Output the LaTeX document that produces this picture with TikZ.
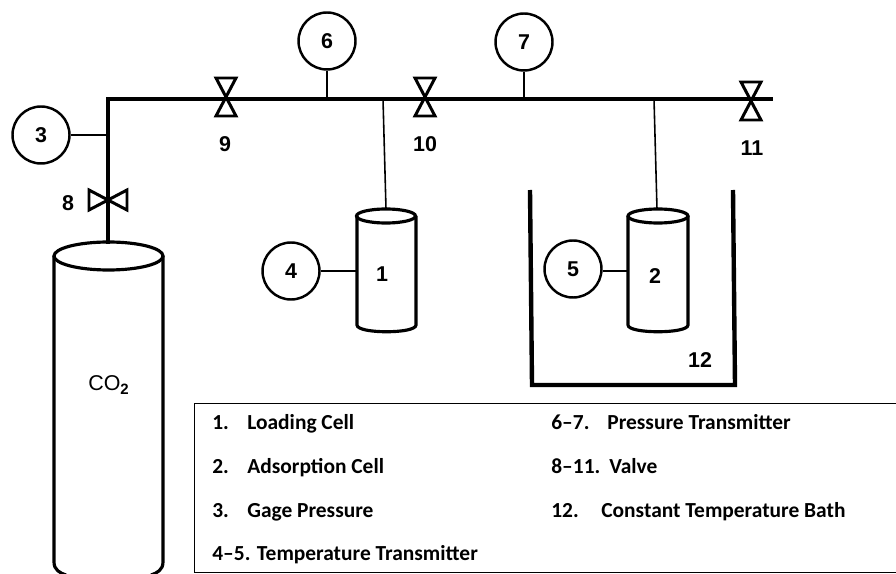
\documentclass[tikz,border=0pt]{standalone}
\usepackage{fontspec}
\setmainfont{Liberation Sans}
\newfontfamily\legendfont{Carlito}
\usepackage{tikz}

\begin{document}
\begin{tikzpicture}[
  x=0.02cm, y=-0.02cm,
  gauge/.style={circle, draw, line width=1.4pt, minimum size=1.14cm, inner sep=0pt, font=\bfseries\fontsize{12.2}{14}\selectfont},
  tag/.style={inner sep=0pt, font=\bfseries\fontsize{12.2}{14}\selectfont},
  legend/.style={anchor=base west, inner sep=0pt, font=\legendfont\bfseries\fontsize{12.2}{14}\selectfont},
  pipe/.style={line width=2.8pt},
  wall/.style={line width=1.8pt},
  tap/.style={line width=0.9pt},
  valveup/.pic={\draw[line width=1.7pt, line join=miter] (-10,-19) -- (10,-19) -- (-10,19) -- (10,19) -- cycle;},
  valveside/.pic={\draw[line width=1.7pt, line join=miter] (-19,-10) -- (-19,10) -- (19,-10) -- (19,10) -- cycle;}
]
\useasboundingbox (0,0) rectangle (896,574);

% Main line
\coordinate (corner) at (108,99);
\coordinate (lineend) at (771,99);
\coordinate (cylinderneck) at (108,242);
\draw[pipe, line cap=rect] (lineend) -- (corner) -- (cylinderneck);

% Gauges and transmitters
\node[gauge] (3) at (41,135) {3};
\node[gauge] (4) at (291,271) {4};
\node[gauge] (5) at (573,269) {5};
\node[gauge] (6) at (327,41) {6};
\node[gauge] (7) at (524,42) {7};

% Cells
\coordinate (cell1top) at (386,209);
\coordinate (cell2top) at (657,209);
\draw[wall] (357,216) -- (357,325) .. controls (357,334) and (416,334) .. (416,325) -- (416,216);
\draw[wall] (386,216) ellipse (29.5 and 7);
\draw[wall] (628,216) -- (628,325) .. controls (628,334) and (688,334) .. (688,325) -- (688,216);
\draw[wall] (658,216) ellipse (30 and 7);
\node[tag] (1) at (382,274) {1};
\node[tag] (2) at (655,276) {2};

% CO2 cylinder
\draw[wall] (54,256) -- (54,562) .. controls (54,570) and (60,573) .. (66,575);
\draw[wall] (163,256) -- (163,562) .. controls (163,570) and (157,573) .. (151,575);
\draw[wall] (108.5,256) ellipse (54.5 and 14);
\node[tag, font=\fontsize{12.2}{14}\selectfont] (co2) at (109,385) {CO\textsubscript{\bfseries 2}};

% Taps
\draw[tap] (3) -- (3 -| corner);
\draw[tap] (4) -- (4 -| 357,0);
\draw[tap] (5.east |- 0,271) -- (628,271);
\draw[tap] (6) -- (6 |- corner);
\draw[tap] (7) -- (7 |- corner);
\draw[tap] (383,99) -- (cell1top);
\draw[tap] (654,99) -- (cell2top);

% Bath
\draw[wall, line width=2.5pt, line join=miter] (530,190) -- (532,385) -- (735,385) -- (733,190);
\node[tag] (12) at (700,360) {12};

% Valves
\pic at (108,200) {valveside};
\pic at (226,97) {valveup};
\pic at (425,97) {valveup};
\pic at (751,101) {valveup};
\node[tag] (8) at (68,203) {8};
\node[tag] (9) at (225,144) {9};
\node[tag] (10) at (425,144) {10};
\node[tag] (11) at (752,148) {11};

% Legend
\draw[line width=0.55pt] (896,403) -- (194,403) -- (194,572) -- (896,572);
\node[legend] (item1) at (212,429) {1.};
\node[legend] (name1) at (247,429) {Loading Cell};
\node[legend] (item2) at (212,473) {2.};
\node[legend] (name2) at (247,473) {Adsorption Cell};
\node[legend] (item3) at (212,517) {3.};
\node[legend] (name3) at (247,517) {Gage Pressure};
\node[legend] (item4) at (212,560) {4–5. Temperature Transmitter};
\node[legend] (item6) at (551,429) {6–7.};
\node[legend] (name6) at (607,429) {Pressure Transmitter};
\node[legend] (item8) at (551,473) {8–11.};
\node[legend] (name8) at (609,473) {Valve};
\node[legend] (item12) at (551,517) {12.};
\node[legend] (name12) at (601,517) {Constant Temperature Bath};
\end{tikzpicture}
\end{document}
